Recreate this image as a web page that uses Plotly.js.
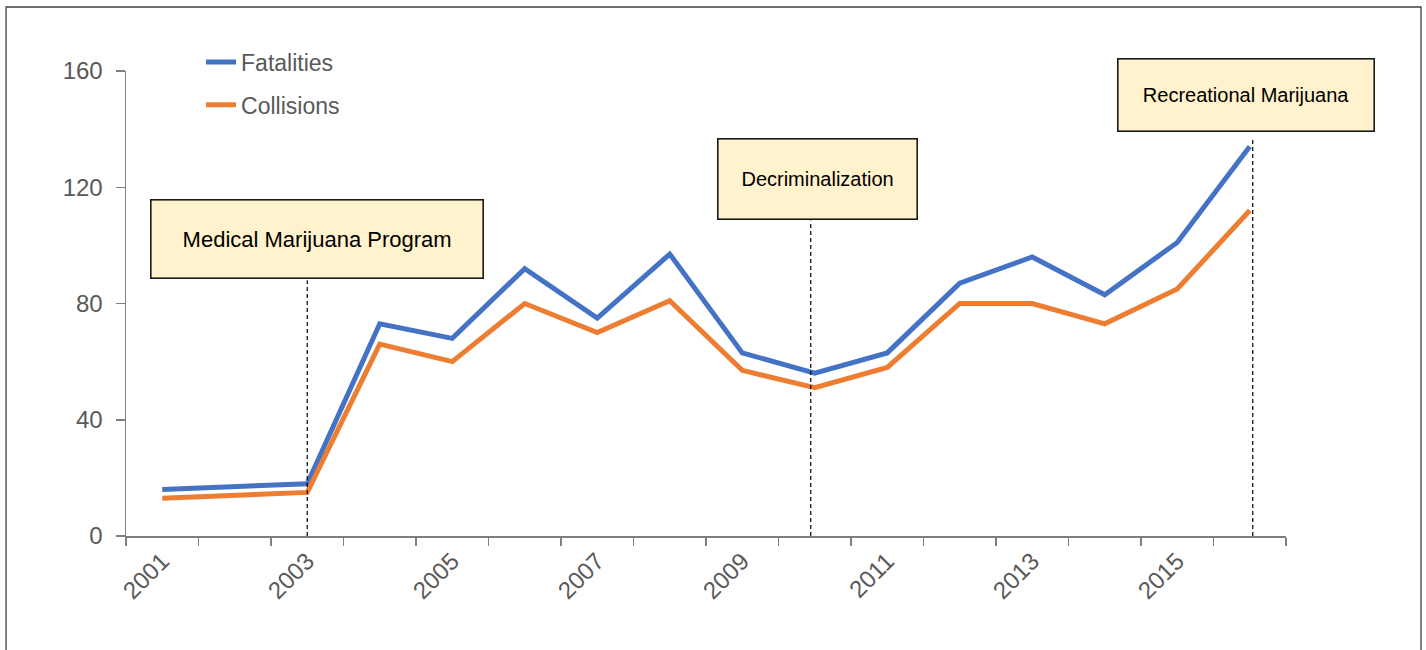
<!DOCTYPE html>
<html>
<head>
<meta charset="utf-8">
<script src="https://cdn.plot.ly/plotly-3.0.1.min.js"></script>
<style>
  html, body { margin: 0; padding: 0; background: #fff; }
  #chart { width: 1426px; height: 650px; }
</style>
</head>
<body>
<div id="chart"></div>
<script>
// ---- data ----
const categoryYears = [2001, 2002, 2003, 2004, 2005, 2006, 2007, 2008, 2009, 2010, 2011, 2012, 2013, 2014, 2015, 2016];
const years       = [2001, 2003, 2004, 2005, 2006, 2007, 2008, 2009, 2010, 2011, 2012, 2013, 2014, 2015, 2016];
const fatalities  = [16, 18, 73, 68, 92, 75, 97, 63, 56, 63, 87, 96, 83, 101, 134];
const collisions  = [13, 15, 66, 60, 80, 70, 81, 57, 51, 58, 80, 80, 73, 85, 112];
const tickLabelYears = [2001, 2003, 2005, 2007, 2009, 2011, 2013, 2015];
const yTicks = [0, 40, 80, 120, 160];
const seriesNames = ['Fatalities', 'Collisions'];
const eventYears  = [2003, 2010, 2016];
const eventLabels = ['Medical Marijuana Program', 'Decriminalization', 'Recreational Marijuana'];

// ---- styling / layout constants ----
const NARROW = 'Liberation Sans Narrow, Arial Narrow, Liberation Sans, Arial, sans-serif';
const REGULAR = 'Liberation Sans, Arial, sans-serif';
const AXIS_COLOR = '#7f7f7f';
const TEXT_GRAY = '#595959';
const boxStyle = [
  {xshift: 10, y: 102.1, w: 331, h: 77, family: REGULAR, size: 22, lineTop: 88.0,  lineShift: 0},
  {xshift: 3,  y: 122.7, w: 198, h: 79, family: NARROW,  size: 20, lineTop: 108.6, lineShift: -4},
  {xshift: -4, y: 151.8, w: 255, h: 71, family: NARROW,  size: 20, lineTop: 136.9, lineShift: 3}
];

const boundaries = categoryYears.map(y => y - 0.5).concat([categoryYears[categoryYears.length - 1] + 0.5]);

const traces = [
  {x: years, y: fatalities, name: seriesNames[0], type: 'scatter', mode: 'lines',
   line: {color: '#4472C4', width: 5}, legendgroup: 'a'},
  {x: years, y: collisions, name: seriesNames[1], type: 'scatter', mode: 'lines',
   line: {color: '#ED7D31', width: 5}, legendgroup: 'b'}
];

const shapes = eventYears.map((yr, i) => ({
  type: 'line', xref: 'x', yref: 'y', xsizemode: 'pixel', xanchor: yr,
  x0: boxStyle[i].lineShift, x1: boxStyle[i].lineShift, y0: 0, y1: boxStyle[i].lineTop,
  line: {color: '#000', width: 1.2, dash: '4px,3px'}, layer: 'above'
}));
// outer frame
shapes.push({
  type: 'rect', xref: 'paper', yref: 'paper',
  x0: -0.1034, x1: 1.1164, y0: -0.35, y1: 1.1376,
  line: {color: '#404040', width: 1.3}, fillcolor: 'rgba(0,0,0,0)'
});

const annotations = eventLabels.map((txt, i) => ({
  text: txt, xref: 'x', yref: 'y', x: eventYears[i], y: boxStyle[i].y,
  xshift: boxStyle[i].xshift, showarrow: false,
  xanchor: 'center', yanchor: 'middle',
  width: boxStyle[i].w, height: boxStyle[i].h, align: 'center', valign: 'middle',
  bgcolor: '#FFF2CC', bordercolor: '#1a1a1a', borderwidth: 1.6, borderpad: 0,
  font: {family: boxStyle[i].family, size: boxStyle[i].size, color: '#000'}
}));

const layout = {
  width: 1426, height: 650,
  margin: {l: 126, r: 140, t: 71, b: 114, pad: 0},
  paper_bgcolor: '#fff', plot_bgcolor: '#fff',
  showlegend: true,
  legend: {
    x: 0.0647, y: 1.0657, xanchor: 'left', yanchor: 'top',
    bgcolor: 'rgba(0,0,0,0)', borderwidth: 0,
    traceorder: 'grouped', tracegroupgap: 10,
    font: {family: NARROW, size: 23, color: TEXT_GRAY}
  },
  xaxis: {
    type: 'linear', range: [boundaries[0], boundaries[boundaries.length - 1]],
    tickmode: 'array', tickvals: tickLabelYears, ticktext: tickLabelYears.map(String),
    ticks: '', tickangle: -45,
    tickfont: {family: NARROW, size: 24, color: TEXT_GRAY},
    showline: true, linecolor: AXIS_COLOR, linewidth: 1.5,
    showgrid: false, zeroline: false, fixedrange: true,
    minor: {tickmode: 'array', tickvals: boundaries, ticks: 'outside', ticklen: 8,
            tickwidth: 1.5, tickcolor: AXIS_COLOR, showgrid: false}
  },
  yaxis: {
    range: [0, 160], tickmode: 'array', tickvals: yTicks,
    ticks: 'outside', ticklen: 9, tickwidth: 1.5, tickcolor: AXIS_COLOR,
    ticklabelstandoff: 8,
    tickfont: {family: NARROW, size: 24, color: TEXT_GRAY},
    showline: true, linecolor: AXIS_COLOR, linewidth: 1.5,
    showgrid: false, zeroline: false, fixedrange: true
  },
  shapes: shapes,
  annotations: annotations
};

Plotly.newPlot('chart', traces, layout, {displayModeBar: false, staticPlot: true});
</script>
</body>
</html>
